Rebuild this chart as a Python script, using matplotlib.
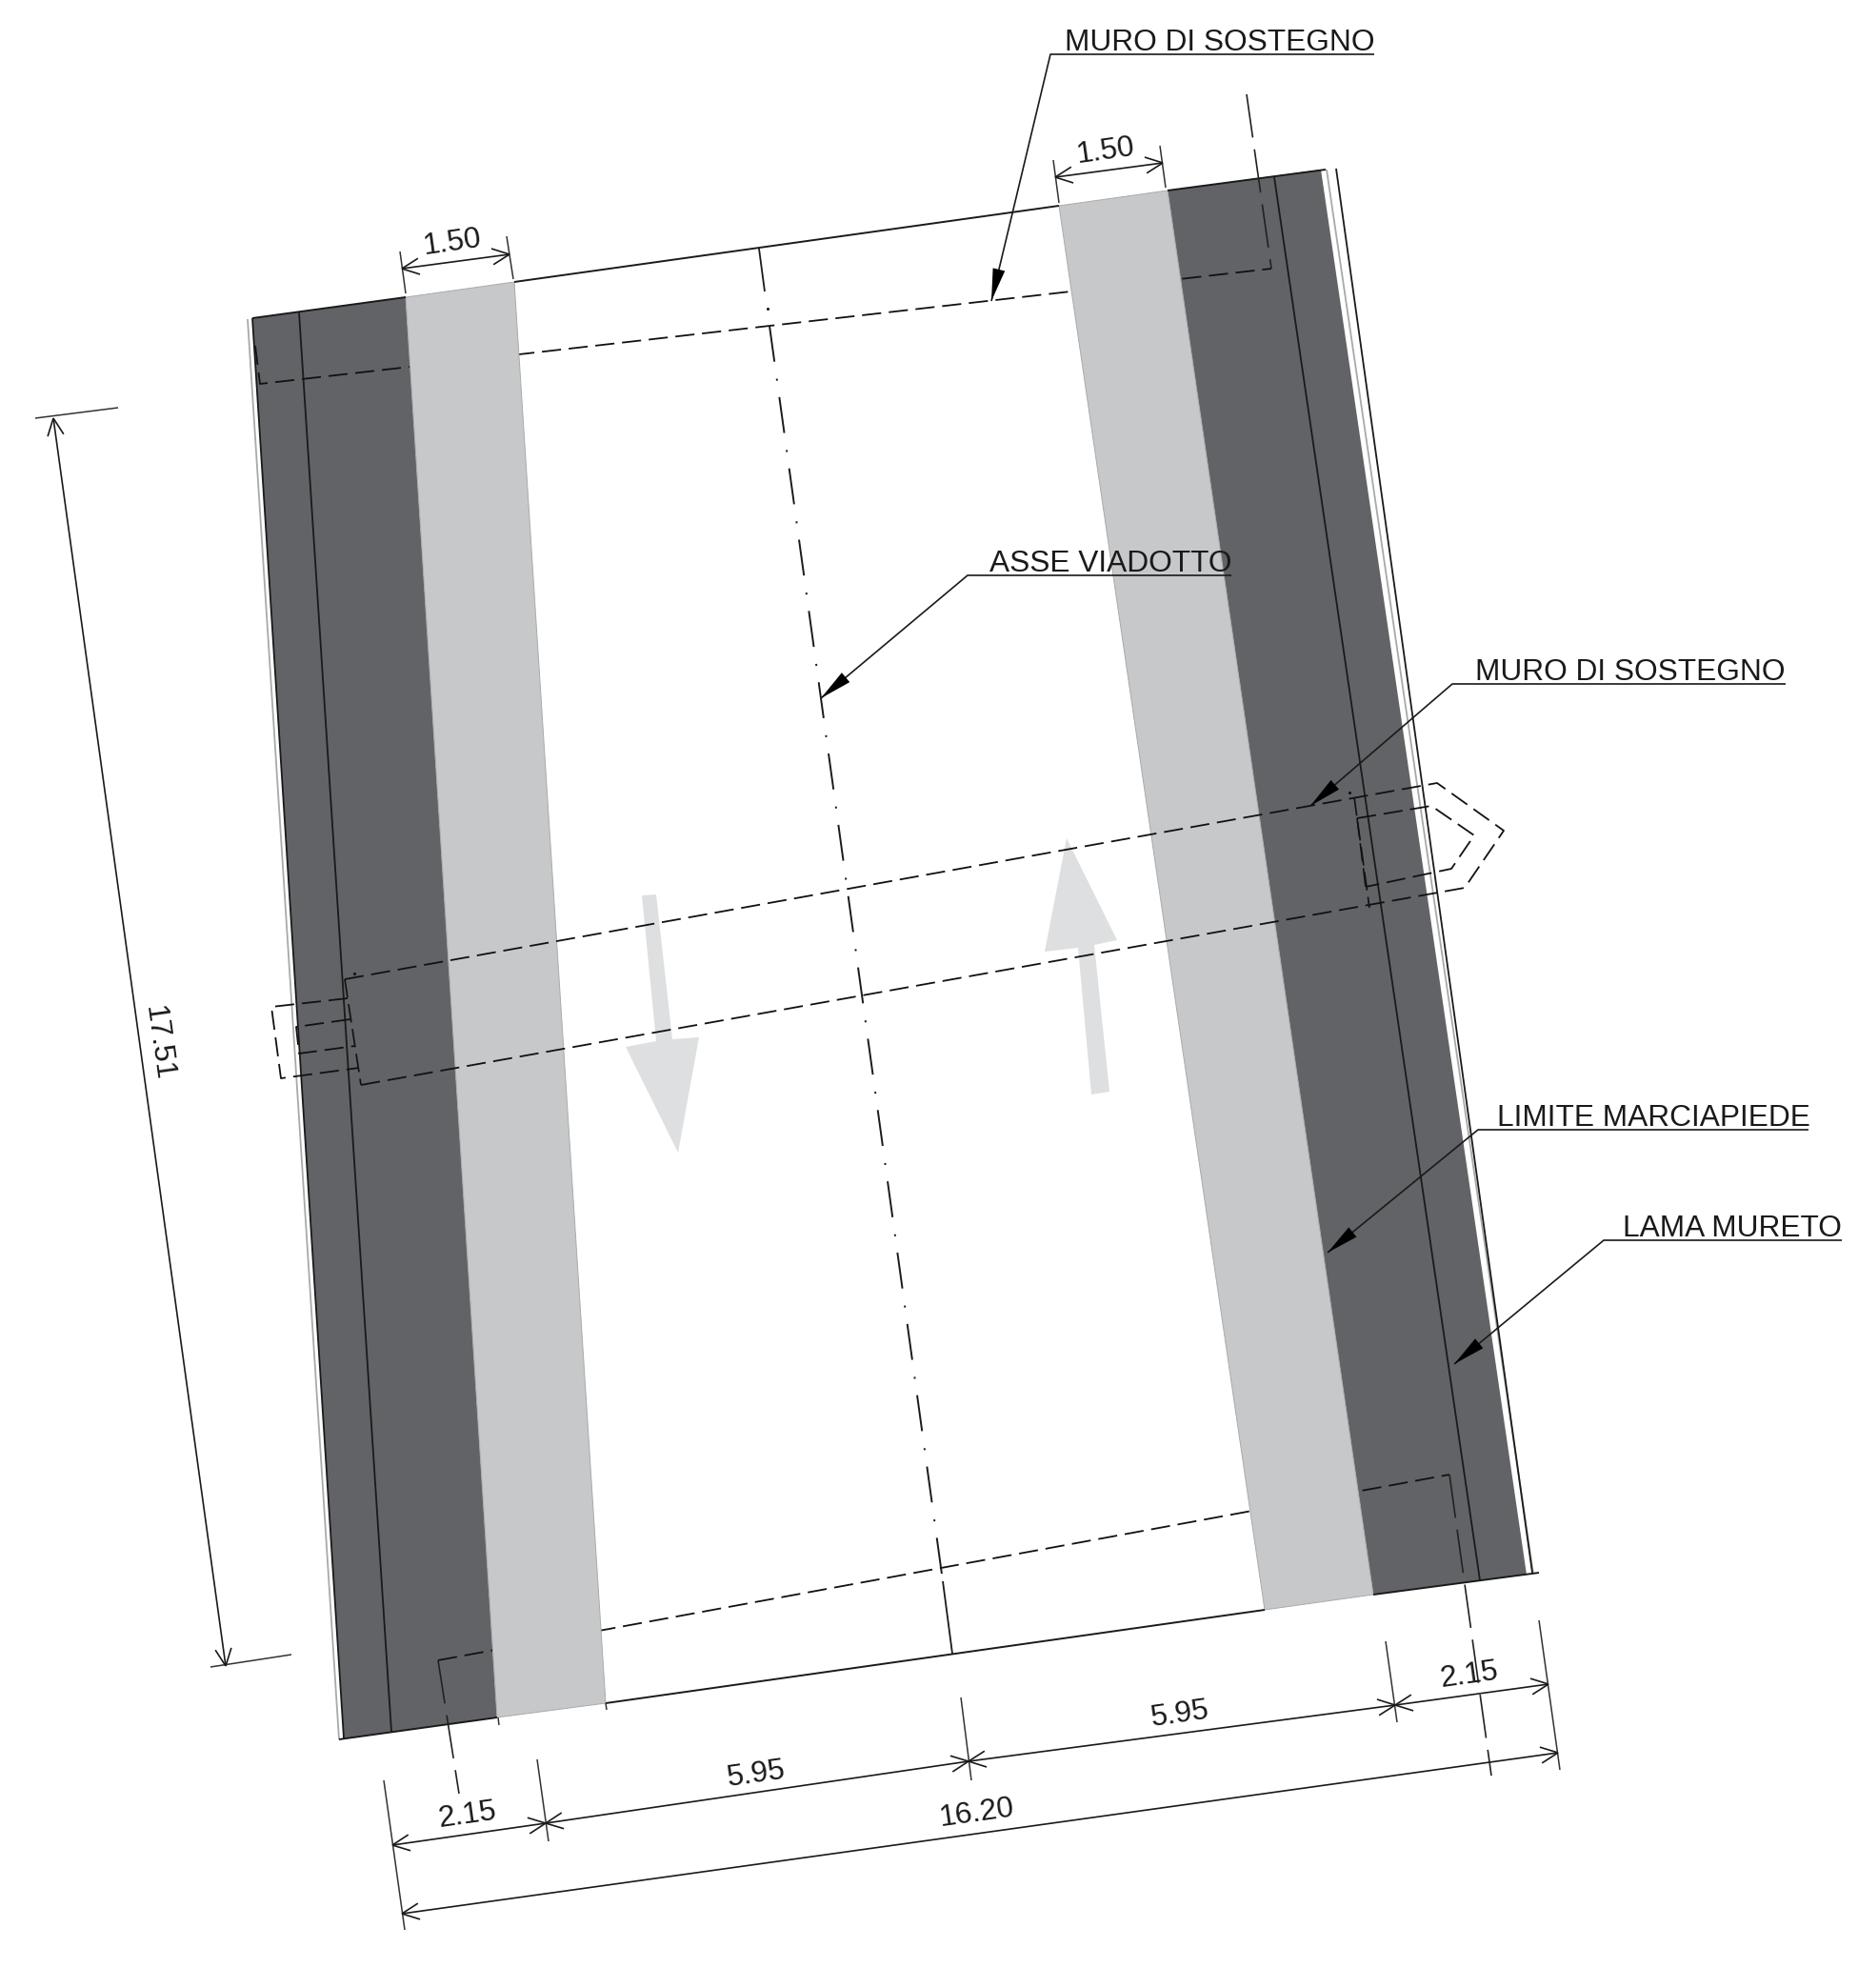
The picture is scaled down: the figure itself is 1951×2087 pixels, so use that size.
import numpy as np
import matplotlib
matplotlib.use("Agg")
import matplotlib.pyplot as plt
from matplotlib.patches import Polygon

plt.rcParams['font.family'] = ['Liberation Sans', 'DejaVu Sans']
plt.rcParams['lines.scale_dashes'] = False

# drawing vertices in image pixels (x, y down)
dark_left = [(265, 334), (426, 312), (522, 1803), (361, 1825)]
light_left = [(426, 312), (540, 296), (636, 1788), (522, 1803)]
light_right = [(1112, 216), (1226, 200), (1442, 1674), (1328, 1690)]
dark_right = [(1226, 200), (1387, 178), (1603, 1653), (1442, 1674)]

top_edges = [[(265, 334), (426, 312)], [(540, 296), (1112, 216)], [(1226, 200), (1392, 178)]]
bottom_edges = [[(356, 1826), (522, 1803)], [(636, 1788), (1328, 1690)], [(1442, 1674), (1616, 1651)]]
solid_lines = [[(314, 328), (411, 1818)], [(1338, 186), (1554, 1659)],
               [(265, 334), (361, 1825)], [(1403, 177), (1609, 1651)],
               [(797, 261), (803, 306)], [(990, 1660), (1000, 1736)]]
grey_lines = [[(260, 335), (356, 1826)], [(1393, 178), (1610, 1652)]]
axis_line = [(808, 342), (990, 1660)]
axis_dot = [(806, 324)]

# these two run underneath the light strips
dash_under = [
    [(268, 363), (273, 403), (1335, 282)],
    [(460, 1743), (1522, 1548)],
]
# the band across the road is drawn over them
dash_short = [
    [(362, 1028), (1509, 822), (1579, 872), (1538, 932), (379, 1139)],
    [(1425, 859), (1503, 846), (1548, 877), (1524, 912), (1434, 931)],
    [(365, 1048), (285, 1057), (295, 1132), (377, 1121)],
    [(368, 1070), (311, 1078), (314, 1106), (373, 1098)],
]
dash_long = [
    [(1309, 99), (1335, 282)],
    [(1522, 1548), (1566, 1864)],
    [(460, 1743), (482, 1883)],
]
dash_tiny = [
    [(362, 1028), (379, 1139)],
    [(1422, 837), (1438, 953)],
    [(1425, 859), (1434, 931)],
]
dots = [(372, 1022), (1417, 832)]

arrow_down = [(674, 940), (689, 939), (706, 1091), (734, 1089), (712, 1210), (657, 1099), (689, 1093)]
arrow_up = [(1120, 880), (1173, 987), (1149, 992), (1165, 1146), (1146, 1149), (1132, 995), (1097, 999)]

# dimension lines: start, end, label, label centre, label angle
dim_starts = [(422, 282), (1108, 186), (412, 1937), (573, 1914), (1017, 1849), (1465, 1790), (422, 2009), (56, 439)]
dim_ends = [(535, 267), (1221, 171), (573, 1914), (1017, 1849), (1465, 1790), (1626, 1768), (1636, 1840), (237, 1749)]
dim_labels = ["1.50", "1.50", "2.15", "5.95", "5.95", "2.15", "16.20", "17.51"]
dim_label_pos = [(475, 255), (1161, 159), (491, 1906), (794, 1863), (1239, 1800), (1543, 1759), (1026, 1904), (166, 1095)]
dim_label_rot = [8, 8, 8, 8, 8, 8, 8, -82]
ext_lines = [
    [(420, 264), (426, 308)], [(532, 248), (539, 293)],
    [(1106, 168), (1112, 213)], [(1218, 153), (1224, 197)],
    [(403, 1869), (425, 2026)], [(564, 1847), (576, 1933)],
    [(1009, 1782), (1020, 1869)], [(1455, 1723), (1467, 1808)],
    [(1616, 1701), (1638, 1858)], [(37, 439), (124, 428)], [(221, 1750), (306, 1737)],
    [(523, 1803), (524, 1811)], [(636, 1788), (637, 1795)],
]

# callouts: text, text start (baseline), underline start, underline end, arrow tip
callout_text = ["MURO DI SOSTEGNO", "ASSE VIADOTTO", "MURO DI SOSTEGNO", "LIMITE MARCIAPIEDE", "LAMA MURETO"]
callout_pos = [(1118, 53), (1039, 600), (1549, 714), (1572, 1182), (1704, 1298)]
callout_start = [(1103, 57), (1016, 604), (1525, 718), (1552, 1186), (1684, 1302)]
callout_end = [(1443, 57), (1293, 604), (1875, 718), (1899, 1186), (1934, 1302)]
callout_tip = [(1041, 316), (862, 733), (1376, 846), (1394, 1315), (1527, 1432)]

DARK = "#626366"
LIGHT = "#c7c8ca"
ARROW = "#dedfe0"
INK = "#1a1a1a"
FONT_SIZE = 22.8


def draw_path(ax, pts, zorder=4, color=INK, lw=1.2, ls="-"):
    xs, ys = zip(*pts)
    ax.plot(xs, ys, color=color, lw=lw, ls=ls, zorder=zorder, solid_capstyle="butt", dash_capstyle="butt")


def open_arrow(ax, tip, other, size=20, spread=25):
    """Two barbs going back from tip towards other."""
    tip = np.array(tip, float)
    d = np.array(other, float) - tip
    d = d / np.hypot(*d)
    for sign in (-1, 1):
        a = np.radians(spread * sign)
        rot = np.array([[np.cos(a), -np.sin(a)], [np.sin(a), np.cos(a)]])
        draw_path(ax, [tip, tip + rot @ d * size], zorder=6)


def solid_arrow(ax, tip, other, size=34, half=6.5):
    tip = np.array(tip, float)
    d = np.array(other, float) - tip
    d = d / np.hypot(*d)
    n = np.array([-d[1], d[0]])
    base = tip + d * size
    ax.add_patch(Polygon([tip, base + n * half, base - n * half], closed=True,
                         facecolor="black", edgecolor="none", zorder=7))


fig = plt.figure(figsize=(19.51, 20.87), dpi=100)
ax = fig.add_axes([0, 0, 1, 1])
ax.set_xlim(0, 1951)
ax.set_ylim(2087, 0)
ax.axis("off")

for poly in (dark_left, dark_right):
    ax.add_patch(Polygon(poly, closed=True, facecolor=DARK, edgecolor="none", zorder=1))

for pts in grey_lines:
    draw_path(ax, pts, zorder=2, color="#a8a9ab", lw=1.3)
for pts in solid_lines:
    draw_path(ax, pts, zorder=4, lw=1.3)
for pts in top_edges + bottom_edges:
    draw_path(ax, pts, zorder=5, lw=1.4)
draw_path(ax, axis_line, zorder=4, lw=1.4, ls=(0, (27.4, 13, 1.5, 12.5)))
ax.scatter(*zip(*axis_dot), s=5, color=INK, zorder=4, linewidths=0)

for pts in dash_under:
    draw_path(ax, pts, zorder=3, color="#111111", lw=1.3, ls=(0, (14.5, 5.8)))

# the light strips hide dash_under
for poly in (light_left, light_right):
    ax.add_patch(Polygon(poly, closed=True, facecolor=LIGHT, edgecolor="#a9aaac", lw=0.7, zorder=4))

for pts in dash_short:
    draw_path(ax, pts, zorder=5, color="#111111", lw=1.3, ls=(0, (14.5, 5.8)))
for pts in dash_long:
    draw_path(ax, pts, zorder=5, color="#222222", lw=1.2, ls=(0, (33, 9)))
for pts in dash_tiny:
    draw_path(ax, pts, zorder=5, color="#111111", lw=1.2, ls=(0, (14, 5)))
ax.scatter(*zip(*dots), s=5, color="#111111", zorder=5, linewidths=0)

ax.add_patch(Polygon(arrow_down, closed=True, facecolor=ARROW, edgecolor="none", zorder=2))
ax.add_patch(Polygon(arrow_up, closed=True, facecolor=ARROW, edgecolor="none", zorder=2))

for pts in ext_lines:
    draw_path(ax, pts, color="#333333", lw=1.1, zorder=5)

for start, end, label, pos, rot in zip(dim_starts, dim_ends, dim_labels, dim_label_pos, dim_label_rot):
    draw_path(ax, [start, end], zorder=6)
    open_arrow(ax, start, end)
    open_arrow(ax, end, start)
    ax.text(pos[0], pos[1], label, fontsize=FONT_SIZE, rotation=rot, rotation_mode="anchor",
            ha="center", va="center", color=INK, zorder=8)

for text, pos, start, end, tip in zip(callout_text, callout_pos, callout_start, callout_end, callout_tip):
    draw_path(ax, [tip, start, end], zorder=6)
    solid_arrow(ax, tip, start)
    ax.text(pos[0], pos[1], text, fontsize=FONT_SIZE, ha="left", va="baseline", color=INK, zorder=8)

fig.savefig("out.png", dpi=100, facecolor="white")
